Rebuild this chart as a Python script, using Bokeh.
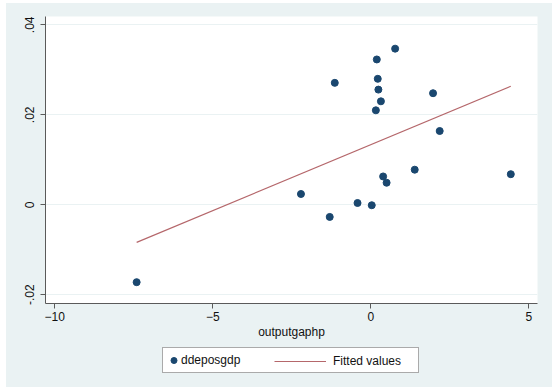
import numpy as np
from bokeh.plotting import figure
from bokeh.layouts import column
from bokeh.models import Range1d, FixedTicker, Legend, LegendItem
from bokeh.embed import file_html
from bokeh.resources import INLINE

# data
outputgaphp = [-7.41, -2.21, -1.30, -1.14, -0.42, 0.03, 0.16, 0.19, 0.22,
               0.24, 0.32, 0.39, 0.50, 0.77, 1.39, 1.97, 2.18, 4.43]
ddeposgdp = [-0.0172, 0.0024, -0.0027, 0.0271, 0.0004, -0.0001, 0.0210, 0.0323, 0.0280,
             0.0256, 0.0230, 0.0063, 0.0049, 0.0347, 0.0078, 0.0248, 0.0164, 0.0068]
x_ticks = [-10, -5, 0, 5]
y_ticks = [-0.02, 0.0, 0.02, 0.04]
y_tick_labels = ["-.02", "0", ".02", ".04"]

# fitted values (OLS of ddeposgdp on outputgaphp)
b, a = np.polyfit(outputgaphp, ddeposgdp, 1)
fit_x = [min(outputgaphp), max(outputgaphp)]
fit_y = [a + b * v for v in fit_x]

BG = "#EAF2F3"
FONT = "Liberation Sans"
DOT = "#1A476F"
FITC = "#B5676B"

W = 546
H1 = 339
H2 = 45

p = figure(width=W, height=H1, output_backend="svg", toolbar_location=None,
           x_range=Range1d(-10.294, 5.275), y_range=Range1d(-0.02194, 0.04185),
           min_border_left=39, min_border_right=15, min_border_top=13, min_border_bottom=39)
p.background_fill_color = "white"
p.border_fill_color = BG
p.outline_line_color = None

p.xgrid.grid_line_color = None
p.ygrid.grid_line_color = BG
p.ygrid.grid_line_width = 1

for ax in (p.xaxis[0], p.yaxis[0]):
    ax.axis_line_color = "#5a5a5a"
    ax.major_tick_line_color = "#5a5a5a"
    ax.major_tick_out = 5
    ax.major_tick_in = 0
    ax.minor_tick_line_color = None
    ax.major_label_text_font = FONT
    ax.major_label_text_font_size = "12px"
    ax.major_label_text_color = "#111111"
    ax.axis_label_text_font = FONT
    ax.axis_label_text_font_size = "12px"
    ax.axis_label_text_font_style = "normal"
    ax.axis_label_text_color = "#111111"

p.xaxis.ticker = FixedTicker(ticks=x_ticks)
p.xaxis.axis_label = "outputgaphp"
p.xaxis.major_label_standoff = 3
p.xaxis.axis_label_standoff = 1

p.yaxis.ticker = FixedTicker(ticks=y_ticks)
p.yaxis.major_label_overrides = {t: l for t, l in zip(y_ticks, y_tick_labels)}
p.yaxis.major_label_orientation = "vertical"
p.yaxis.major_label_standoff = 6

p.line(fit_x, fit_y, line_color=FITC, line_width=1.2)
p.scatter(outputgaphp, ddeposgdp, size=7, fill_color=DOT, line_color=DOT)

# legend strip below the graph (its renderers lie outside its own ranges)
q = figure(width=W, height=H2, output_backend="svg", toolbar_location=None,
           x_range=Range1d(100, 101), y_range=Range1d(100, 101),
           x_axis_location=None, y_axis_location=None,
           min_border=0, min_border_left=0, min_border_right=0,
           min_border_top=0, min_border_bottom=0)
q.grid.visible = False
q.background_fill_color = BG
q.border_fill_color = BG
q.outline_line_color = None

leg_pts = q.scatter(outputgaphp, ddeposgdp, size=7, fill_color=DOT, line_color=DOT)
leg_line = q.line(fit_x, fit_y, line_color=FITC, line_width=1.2)

common = dict(label_text_font=FONT, label_text_font_size="12px", label_text_color="#111111",
              glyph_height=18, label_height=16, padding=3, spacing=0, margin=0)

# the column aligns this strip's frame with the graph's frame (left edge at x=45)
leg_a = Legend(items=[LegendItem(label="ddeposgdp", renderers=[leg_pts])],
               location=(117, 14), glyph_width=15, label_standoff=0, label_width=234,
               border_line_color="#555555", border_line_width=1,
               background_fill_color="white", background_fill_alpha=1.0, **common)
leg_b = Legend(items=[LegendItem(label="Fitted values", renderers=[leg_line])],
               location=(226, 14), glyph_width=52, label_standoff=7, label_width=20,
               border_line_color="#555555", border_line_alpha=0.0,
               background_fill_color="white", background_fill_alpha=0.0, **common)
q.add_layout(leg_a, "center")
q.add_layout(leg_b, "center")

layout = column(p, q, spacing=0, margin=(3, 0, 0, 6), styles={"background-color": BG})
open("out.html", "w").write(file_html(layout, INLINE))
